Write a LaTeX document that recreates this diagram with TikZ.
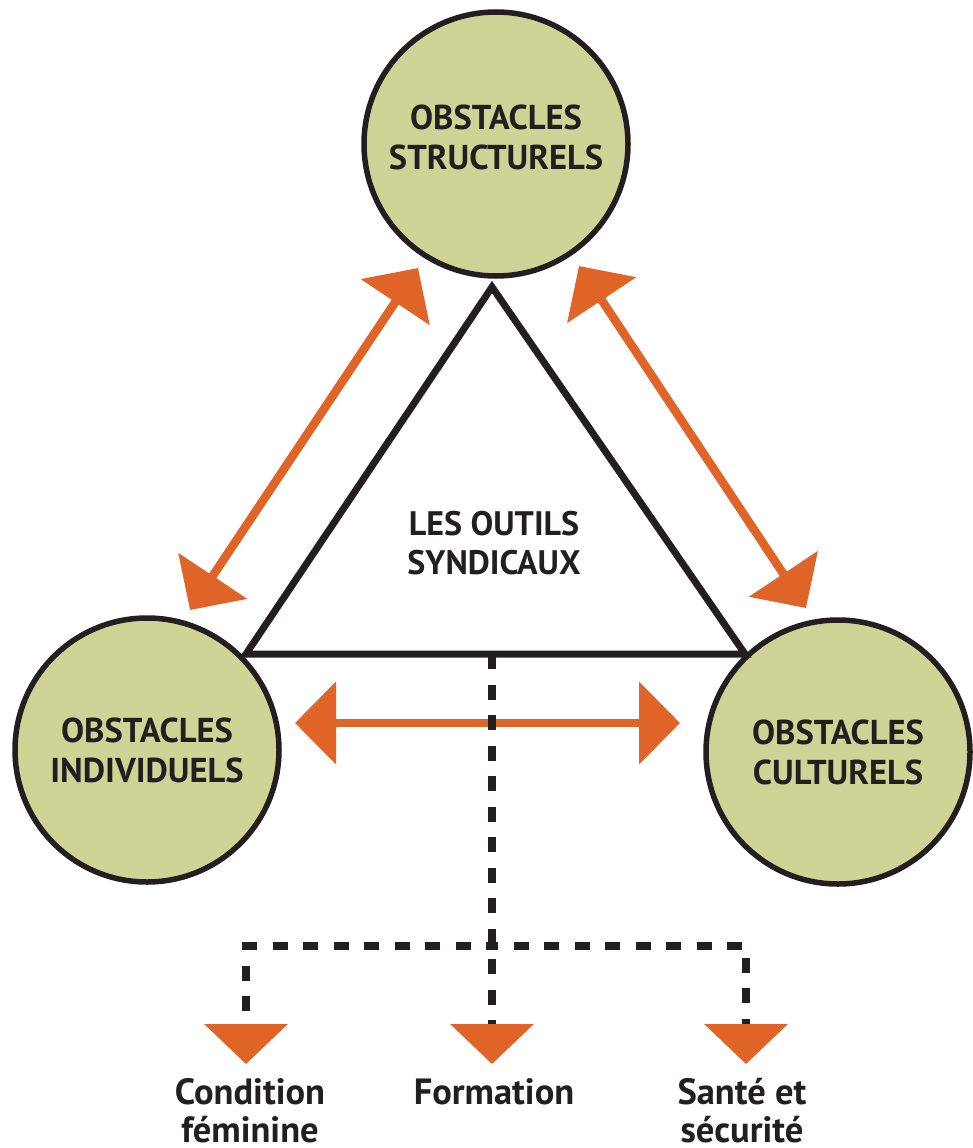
\documentclass[tikz,border=0pt]{standalone}
\usepackage{fontspec}
\setmainfont{PT Sans}
\usetikzlibrary{arrows.meta}
\definecolor{oliv}{RGB}{207,211,150}
\definecolor{orng}{RGB}{224,100,40}
\definecolor{ink}{RGB}{35,31,32}
\tikzset{obst/.style = {circle, draw=ink, line width=5.5pt, fill=oliv,
                        minimum size=264pt, inner sep=0, align=center, text=ink,
                        font=\bfseries\fontsize{34.5}{40}\selectfont}}
\tikzset{dbl/.style = {draw=orng, line width=8.5pt,
                       {Triangle[length=41pt,width=81pt]}-{Triangle[length=41pt,width=81pt]}}}
\tikzset{dsh/.style = {draw=ink, line width=8pt, dash pattern=on 15pt off 15.5pt,
                       -{Triangle[length=40pt,width=82pt,color=orng]}}}
\tikzset{outil/.style = {align=center, text=ink, inner sep=0,
                         font=\bfseries\fontsize{36.5}{38}\selectfont}}

\begin{document}
\begin{tikzpicture}[x=1pt,y=-1pt]
  \useasboundingbox (0,0) rectangle (972,1148);
  % the three obstacles
  \node[obst, text depth=14pt] (struct) at (496,144) {OBSTACLES\\STRUCTURELS};
  \node[obst] (indiv) at (147,750) {OBSTACLES\\INDIVIDUELS};
  \node[obst] (cult) at (838,752) {OBSTACLES\\CULTURELS};
  % triangle
  \coordinate (apex) at (492,287);
  \coordinate (bl) at (246,654);
  \coordinate (br) at (745,654);
  \coordinate (bm) at (492,654);
  \draw[ink, line width=7pt, line join=miter] (apex) -- (bl) -- (br) -- cycle;
  \node[outil, font=\bfseries\fontsize{34}{39}\selectfont] (outils) at (494,543) {LES OUTILS\\SYNDICAUX};
  % orange arrows
  \coordinate (a1) at (190,610);
  \coordinate (a2) at (418,268);
  \coordinate (b1) at (579,266);
  \coordinate (b2) at (806,608);
  \coordinate (c1) at (295,723);
  \coordinate (c2) at (680,723);
  \draw[dbl] (a1) -- (a2);
  \draw[dbl] (b1) -- (b2);
  \draw[dbl] (c1) -- (c2);
  % dashed tree
  \coordinate (hj) at (492,946);
  \coordinate (t1) at (246,1064);
  \coordinate (t2) at (492,1064);
  \coordinate (t3) at (746,1064);
  \draw[dsh] (bm) -- (t2);
  \draw[dsh, dash phase=9pt] (hj) -| (t1);
  \draw[dsh, dash phase=9pt] (hj) -| (t3);
  \node[outil, anchor=north] (cond) at (250,1078) {Condition\\féminine};
  \node[outil, anchor=north] (form) at (494,1078) {Formation};
  \node[outil, anchor=north] (sante) at (742,1078) {Santé et\\sécurité};
\end{tikzpicture}
\end{document}
